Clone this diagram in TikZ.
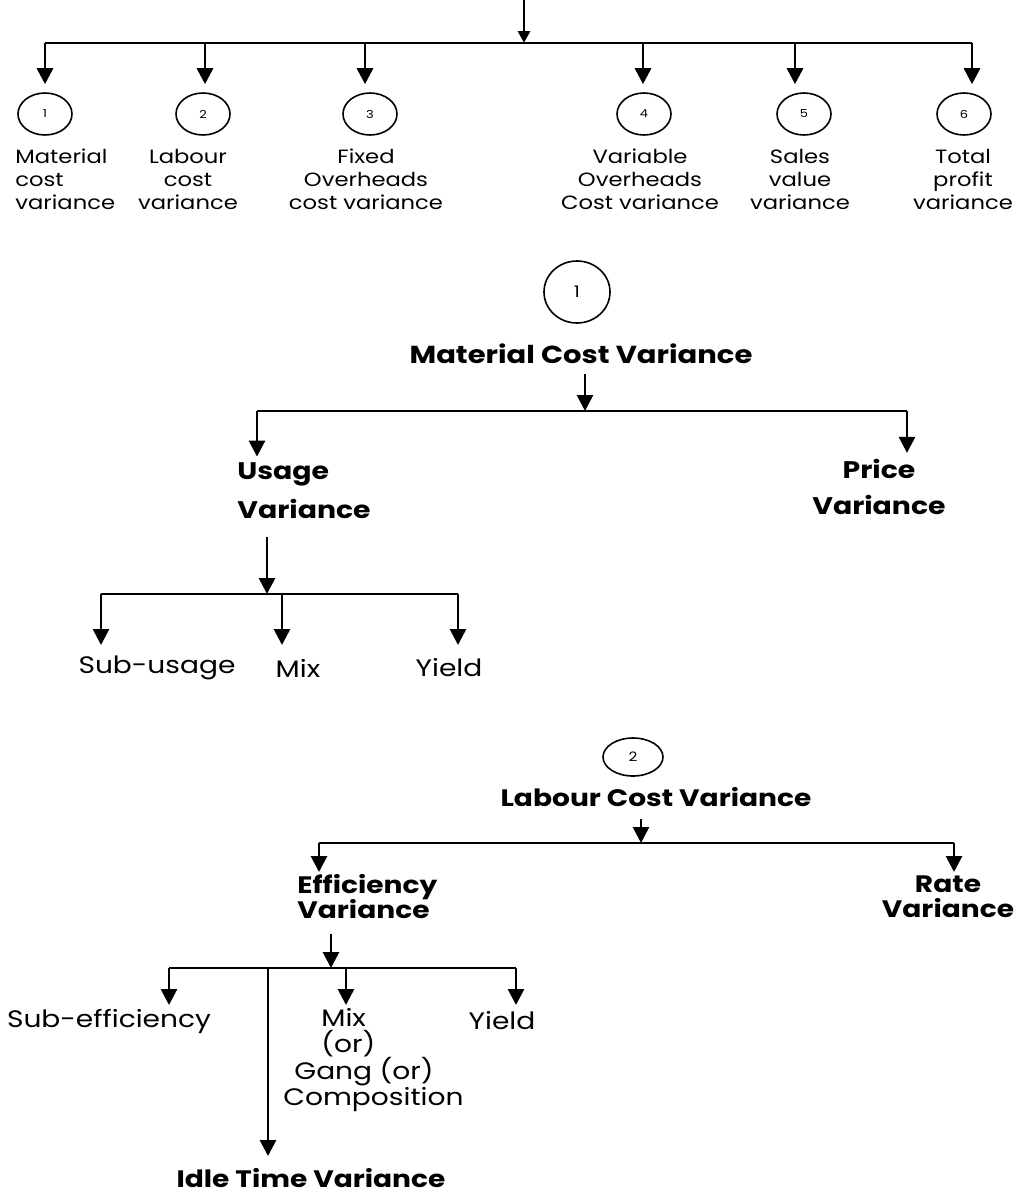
\documentclass[tikz,border=0pt]{standalone}
\usepackage{fontspec}
\setmainfont{Poppins}[FakeStretch=1.18]
\usetikzlibrary{arrows.meta,shapes.geometric}
\lineskiplimit=-20pt

\begin{document}
\begin{tikzpicture}[x=0.5pt,y=-0.5pt,
    arr/.style={-{Triangle[width=8pt,length=8pt]},line width=1.4pt},
    bar/.style={line width=1pt},
    num/.style={draw,ellipse,line width=0.8pt,inner sep=0pt,font=\fontsize{5.5}{7}\selectfont},
    lbl/.style={align=center,inner sep=0pt,font=\fontsize{9.6}{11.5}\selectfont},
    head/.style={inner sep=0pt,font=\bfseries\fontsize{11.9}{18}\selectfont},
    leaf/.style={inner sep=0pt,font=\fontsize{11.9}{16}\selectfont}]
\useasboundingbox (0,0) rectangle (1014,1194);

% main kinds of variance
\coordinate (top) at (524,0);
\coordinate (b0) at (524,43);
\draw[arr,-{Triangle[width=6pt,length=6pt]}] (top) -- (b0);
\draw[bar] (45,43) -- (972,43);
\foreach \i/\bx/\nx in {1/45/45,2/205/203,3/365/370,4/643/644,5/795/804,6/972/964}{
  \coordinate (b\i) at (\bx,43);
  \node[num,minimum width=27pt,minimum height=21pt] (n\i) at (\nx,114) {\i};
  \draw[arr,shorten >=4pt] (b\i) -- (b\i |- n\i.north);
}
\node[lbl,align=left,anchor=west] (mat) at (15,179) {Material\\cost\\variance};
\node[lbl] (lab) at (188,179) {Labour\\cost\\variance};
\node[lbl] (fix) at (366,179) {Fixed\\Overheads\\cost variance};
\node[lbl] (var) at (640,179) {Variable\\Overheads\\Cost variance};
\node[lbl] (sal) at (800,179) {Sales\\value\\variance};
\node[lbl] (tot) at (963,179) {Total\\profit\\variance};

% material cost variance
\node[num,minimum width=33pt,minimum height=31pt,font=\fontsize{8}{10}\selectfont] (c1) at (577,292) {1};
\node[head,font=\bfseries\fontsize{12.3}{18}\selectfont] (mcv) at (581,354) {Material Cost Variance};
\coordinate (m0) at (585,411);
\coordinate (mL) at (257,411);
\coordinate (mR) at (907,411);
\draw[arr,shorten <=5pt] (m0 |- mcv.south) -- (m0);
\draw[bar] (mL) -- (mR);
\node[head,align=left,anchor=west,font=\bfseries\fontsize{12}{19.5}\selectfont] (use) at (237,491) {Usage\\Variance};
\node[head,align=center,font=\bfseries\fontsize{12}{18}\selectfont] (pri) at (879,487) {Price\\Variance};
\draw[arr,shorten >=3pt] (mL) -- (mL |- use.north);
\draw[arr,shorten >=3pt] (mR) -- (mR |- pri.north);
\coordinate (u0) at (267,594);
\draw[arr,shorten <=9pt] (u0 |- use.south) -- (u0);
\draw[bar] (101,594) -- (458,594);
\node[leaf] (sub) at (157,668) {Sub-usage};
\node[leaf] (mix) at (298,668) {Mix};
\node[leaf] (yld) at (449,668) {Yield};
\foreach \x/\n in {101/sub,282/mix,458/yld}
  \draw[arr] (\x,594) -- (\x,645);

% labour cost variance
\node[num,minimum width=30pt,minimum height=19pt,font=\fontsize{6.5}{8}\selectfont] (c2) at (633,757) {2};
\node[head] (lcv) at (656,797) {Labour Cost Variance};
\coordinate (l0) at (641,843);
\coordinate (lL) at (319,843);
\coordinate (lR) at (954,843);
\draw[arr,shorten <=6pt] (l0 |- lcv.south) -- (l0);
\draw[bar] (lL) -- (lR);
\node[head,align=left,anchor=west,font=\bfseries\fontsize{11.9}{12.5}\selectfont] (eff) at (297,897) {Efficiency\\Variance};
\node[head,align=center,font=\bfseries\fontsize{11.9}{12.5}\selectfont] (rat) at (948,897) {Rate\\Variance};
\draw[arr] (lL) -- (319,872);
\draw[arr] (lR) -- (954,872);
\coordinate (e0) at (331,968);
\draw[arr,shorten <=7pt] (e0 |- eff.south) -- (e0);
\draw[bar] (169,968) -- (516,968);
\node[leaf] (sef) at (109,1021) {Sub-efficiency};
\node[leaf,font=\fontsize{11.9}{13.2}\selectfont,align=left,anchor=west] (gang) at (283,1060)
  {\hspace*{19pt}Mix\\\hspace*{19pt}(or)\\\hspace*{5.5pt}Gang (or)\\Composition};
\node[leaf] (ly) at (502,1021) {Yield};
\node[head] (idle) at (311,1178) {Idle Time Variance};
\draw[arr] (169,968) -- (169,1005);
\draw[arr] (346,968) -- (346,1005);
\draw[arr] (516,968) -- (516,1005);
\draw[arr] (268,968) -- (268,1156);
\end{tikzpicture}
\end{document}
